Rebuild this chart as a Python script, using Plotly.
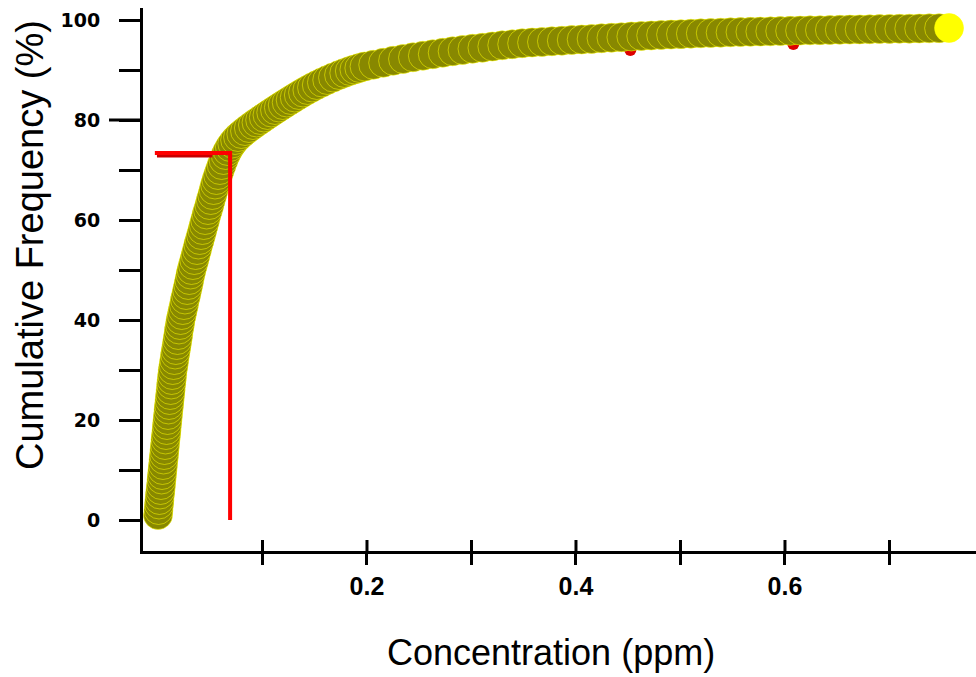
import plotly.graph_objects as go

# Cumulative frequency table: concentration (ppm) vs cumulative frequency (%)
conc = [
    0.0000, 0.0005, 0.0010, 0.0014, 0.0019, 0.0024, 0.0029, 0.0034, 0.0038, 0.0043,
    0.0048, 0.0053, 0.0058, 0.0062, 0.0067, 0.0072, 0.0077, 0.0082, 0.0086, 0.0091,
    0.0096, 0.0101, 0.0106, 0.0111, 0.0116, 0.0121, 0.0126, 0.0131, 0.0136, 0.0141,
    0.0149, 0.0156, 0.0164, 0.0171, 0.0179, 0.0186, 0.0194, 0.0201, 0.0209, 0.0216,
    0.0227, 0.0237, 0.0248, 0.0258, 0.0269, 0.0279, 0.0290, 0.0300, 0.0311, 0.0321,
    0.0334, 0.0347, 0.0360, 0.0373, 0.0386, 0.0399, 0.0412, 0.0425, 0.0438, 0.0451,
    0.0465, 0.0478, 0.0492, 0.0505, 0.0519, 0.0532, 0.0546, 0.0559,
    0.0575, 0.0592, 0.0609, 0.0627, 0.0647, 0.0666, 0.0688, 0.0711, 0.0738, 0.0766,
    0.0798, 0.0833, 0.0870, 0.0909, 0.0943, 0.0978, 0.1013, 0.1048, 0.1084, 0.1120,
    0.1157, 0.1194, 0.1232, 0.1270, 0.1309, 0.1348, 0.1388, 0.1430, 0.1474, 0.1520,
    0.1569, 0.1620, 0.1675, 0.1733, 0.1783, 0.1836, 0.1880, 0.1927, 0.1977,
    0.2060, 0.2155, 0.2250, 0.2345, 0.2440, 0.2535, 0.2630, 0.2725, 0.2820, 0.2915,
    0.3010, 0.3105, 0.3200, 0.3295, 0.3390, 0.3485, 0.3580, 0.3675, 0.3770, 0.3865,
    0.3960, 0.4055, 0.4150, 0.4245, 0.4340, 0.4435, 0.4530, 0.4625, 0.4720, 0.4815,
    0.4910, 0.5005, 0.5100, 0.5195, 0.5290, 0.5385, 0.5480, 0.5575, 0.5670, 0.5765,
    0.5860, 0.5955, 0.6050, 0.6145, 0.6240, 0.6335, 0.6430, 0.6525, 0.6620, 0.6715,
    0.6810, 0.6905, 0.7000, 0.7095, 0.7190, 0.7285, 0.7380, 0.7475, 0.7570,
]
cum_freq = [
    1.0, 2.0, 3.1, 4.0, 5.1, 6.0, 7.0, 8.1, 9.0, 10.0,
    11.0, 12.1, 13.0, 14.0, 15.0, 16.1, 17.0, 18.0, 19.0, 20.0,
    21.0, 22.1, 23.0, 24.0, 25.0, 26.0, 27.1, 28.0, 29.0, 30.0,
    31.0, 32.0, 33.1, 34.0, 35.0, 36.0, 37.0, 38.1, 39.0, 40.0,
    41.0, 42.0, 43.0, 44.1, 45.0, 46.0, 47.0, 48.0, 49.1, 50.0,
    51.0, 52.0, 53.0, 54.0, 55.1, 56.0, 57.0, 58.0, 59.0, 60.0,
    61.1, 62.0, 63.0, 64.0, 65.0, 66.0, 67.1, 68.0,
    69.0, 70.0, 71.0, 72.0, 73.0, 73.8, 74.6, 75.3, 76.0, 76.6,
    77.2, 77.8, 78.4, 79.0, 79.5, 80.0, 80.5, 81.0, 81.5, 82.0,
    82.5, 83.0, 83.5, 84.0, 84.5, 85.0, 85.5, 86.0, 86.5, 87.0,
    87.5, 88.0, 88.5, 89.0, 89.4, 89.8, 90.1, 90.4, 90.7,
    91.05, 91.45, 91.85, 92.2, 92.55, 92.85, 93.15, 93.45, 93.75, 94.0,
    94.25, 94.45, 94.7, 94.95, 95.15, 95.35, 95.5, 95.6, 95.75, 95.85,
    96.0, 96.1, 96.2, 96.35, 96.45, 96.55, 96.7, 96.8, 96.9, 97.0,
    97.08, 97.17, 97.26, 97.33, 97.39, 97.46, 97.53, 97.58, 97.63, 97.68,
    97.73, 97.78, 97.83, 97.88, 97.93, 97.96, 98.0, 98.04, 98.08, 98.12,
    98.15, 98.19, 98.22, 98.25, 98.27, 98.3, 98.33, 98.36, 98.4,
]

# Reference points sitting under the curve
ref_conc = [0.452, 0.608]
ref_freq = [94.0, 95.2]

# Percentile read-off guide (concentration at the marked frequency)
guide_conc = 0.069
guide_freq = 73.4
guide_start = -0.003
guide2_conc = [-0.001, 0.052]
guide2_freq = [72.8, 72.8]

# Axis ticks
x_tickvals = [0.1, 0.2, 0.3, 0.4, 0.5, 0.6, 0.7]
x_ticktext = ["", "0.2", "", "0.4", "", "0.6", ""]
y_tickvals = [0, 10, 20, 30, 40, 50, 60, 70, 80, 90, 100]
y_ticktext = ["0", "", "20", "", "40", "", "60", "", "80", "", "100"]

OLIVE = "#888800"
YELLOW = "#ffff00"

fig = go.Figure()

fig.add_trace(go.Scatter(
    x=ref_conc, y=ref_freq, mode="markers",
    marker=dict(size=12, color="#dd0000", line=dict(width=0)),
    showlegend=False, hoverinfo="skip",
))

fill_colors = [OLIVE] * (len(conc) - 1) + [YELLOW]
fig.add_trace(go.Scatter(
    x=conc, y=cum_freq, mode="markers",
    marker=dict(size=29, color=fill_colors,
                line=dict(color="rgba(255,255,0,0.65)", width=0.8)),
    showlegend=False,
))

fig.add_trace(go.Scatter(
    x=guide2_conc, y=guide2_freq, mode="lines",
    line=dict(color="#c80000", width=3),
    showlegend=False, hoverinfo="skip",
))
fig.add_trace(go.Scatter(
    x=[guide_start, guide_conc, guide_conc], y=[guide_freq, guide_freq, 0],
    mode="lines", line=dict(color="#ff0000", width=4),
    showlegend=False, hoverinfo="skip",
))

# Ticks on the x axis cross the axis line: the upper half is drawn as shapes
shapes = []
for v in x_tickvals:
    shapes.append(dict(type="line", xref="x", yref="paper", x0=v, x1=v,
                       y0=0, y1=11 / 543, line=dict(color="black", width=3)))
# longer tick at 80 %
shapes.append(dict(type="line", xref="paper", yref="y", x0=-34 / 833, x1=0,
                   y0=80, y1=80, line=dict(color="black", width=3)))

title_font = dict(family="Liberation Sans, Arial", color="black")
annotations = [
    dict(text="Concentration (ppm)", xref="paper", yref="paper",
         x=(551 - 143) / 833, y=-(652 - 551) / 543, xanchor="center", yanchor="middle",
         showarrow=False, font=dict(size=36, **title_font)),
    dict(text="Cumulative Frequency (%)", xref="paper", yref="paper",
         x=(30 - 143) / 833, y=(551 - 245) / 543, xanchor="center", yanchor="middle",
         textangle=-90, showarrow=False, font=dict(size=38, **title_font)),
]

fig.update_layout(
    width=976, height=677,
    margin=dict(l=143, r=0, t=8, b=126),
    paper_bgcolor="white", plot_bgcolor="white",
    shapes=shapes,
    annotations=annotations,
    xaxis=dict(
        range=[-0.01435, 0.7828],
        showline=True, linewidth=3, linecolor="black",
        ticks="outside", ticklen=11, tickwidth=3, tickcolor="black",
        tickvals=x_tickvals, ticktext=x_ticktext,
        tickfont=dict(family="Liberation Sans, Arial", size=25, color="black", weight="bold"),
        ticklabelstandoff=0,
        showgrid=False, zeroline=False,
    ),
    yaxis=dict(
        range=[-6.2, 102.4],
        showline=True, linewidth=3, linecolor="black",
        ticks="outside", ticklen=21, tickwidth=3, tickcolor="black",
        tickvals=y_tickvals, ticktext=y_ticktext,
        tickfont=dict(family="DejaVu Sans, Liberation Sans", size=19, color="black", weight="bold"),
        ticklabelstandoff=15,
        showgrid=False, zeroline=False,
    ),
)

fig.write_html("out.html")
